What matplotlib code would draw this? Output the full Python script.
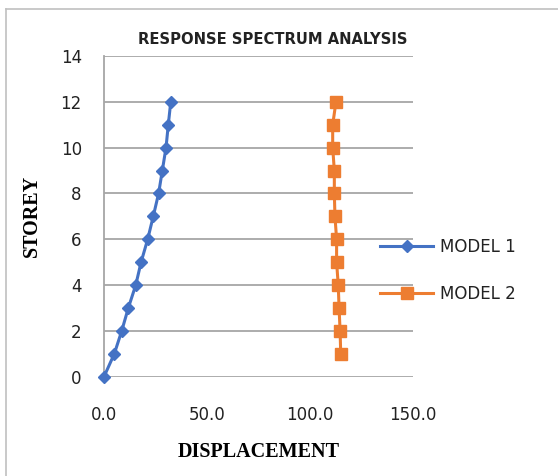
import numpy as np
import matplotlib.pyplot as plt
from matplotlib.lines import Line2D

storey_m1 = [0, 1, 2, 3, 4, 5, 6, 7, 8, 9, 10, 11, 12]
disp_m1 = [0.0, 5.0, 8.6, 11.8, 15.4, 18.0, 21.2, 23.9, 26.5, 28.3, 30.1, 31.2, 32.4]

storey_m2 = [1, 2, 3, 4, 5, 6, 7, 8, 9, 10, 11, 12]
disp_m2 = [114.9, 114.6, 114.1, 113.7, 112.9, 112.9, 112.1, 111.8, 111.8, 111.0, 111.0, 112.6]

x_ticks = [0, 50, 100, 150]
y_ticks = [0, 2, 4, 6, 8, 10, 12, 14]

fig = plt.figure(figsize=(5.58, 4.76), dpi=100)
ax = fig.add_axes([0.1864, 0.2086, 0.5538, 0.6738])

ax.plot(disp_m1, storey_m1, color='#4472C4', lw=2.2, marker='D', ms=6.5,
        label='MODEL 1', clip_on=False, zorder=3)
ax.plot(disp_m2, storey_m2, color='#ED7D31', lw=2.2, marker='s', ms=8,
        label='MODEL 2', clip_on=False, zorder=3)

ax.set_xlim(0, 150)
ax.set_ylim(0, 14)
ax.set_xticks(x_ticks)
ax.set_xticklabels(['%.1f' % v for v in x_ticks])
ax.set_yticks(y_ticks)
ax.grid(axis='y', color='#a6a6a6', lw=1.3)
ax.set_axisbelow(True)
for side in ['top', 'right', 'bottom']:
    ax.spines[side].set_visible(False)
ax.spines['left'].set_color('#a6a6a6')
ax.spines['left'].set_linewidth(1.3)
ax.tick_params(length=0, labelsize=12, colors='#222222')
ax.tick_params(axis='y', pad=16)
ax.tick_params(axis='x', pad=21)

ax.set_xlabel('DISPLACEMENT', family='Liberation Serif', weight='bold',
              fontsize=14.5, labelpad=13)
ax.set_ylabel('STOREY', family='Liberation Serif', weight='bold',
              fontsize=14.5)
ax.yaxis.set_label_coords(-0.20, 0.5)

fig.text(0.488, 0.918, 'RESPONSE SPECTRUM ANALYSIS', ha='center', va='center',
         fontsize=10.6, weight='bold', color='#222222')

ax.legend(loc='center left', bbox_to_anchor=(0.845, 0.332), frameon=False,
          fontsize=12, handlelength=3.2, handletextpad=0.4, labelspacing=1.75,
          labelcolor='#222222')

# outer chart frame
fig.add_artist(Line2D([0.011, 0.011], [0, 0.981], color='#c0c0c0', lw=1.2))
fig.add_artist(Line2D([0.011, 1.0], [0.981, 0.981], color='#c0c0c0', lw=1.2))

fig.savefig('out.png', dpi=100)
